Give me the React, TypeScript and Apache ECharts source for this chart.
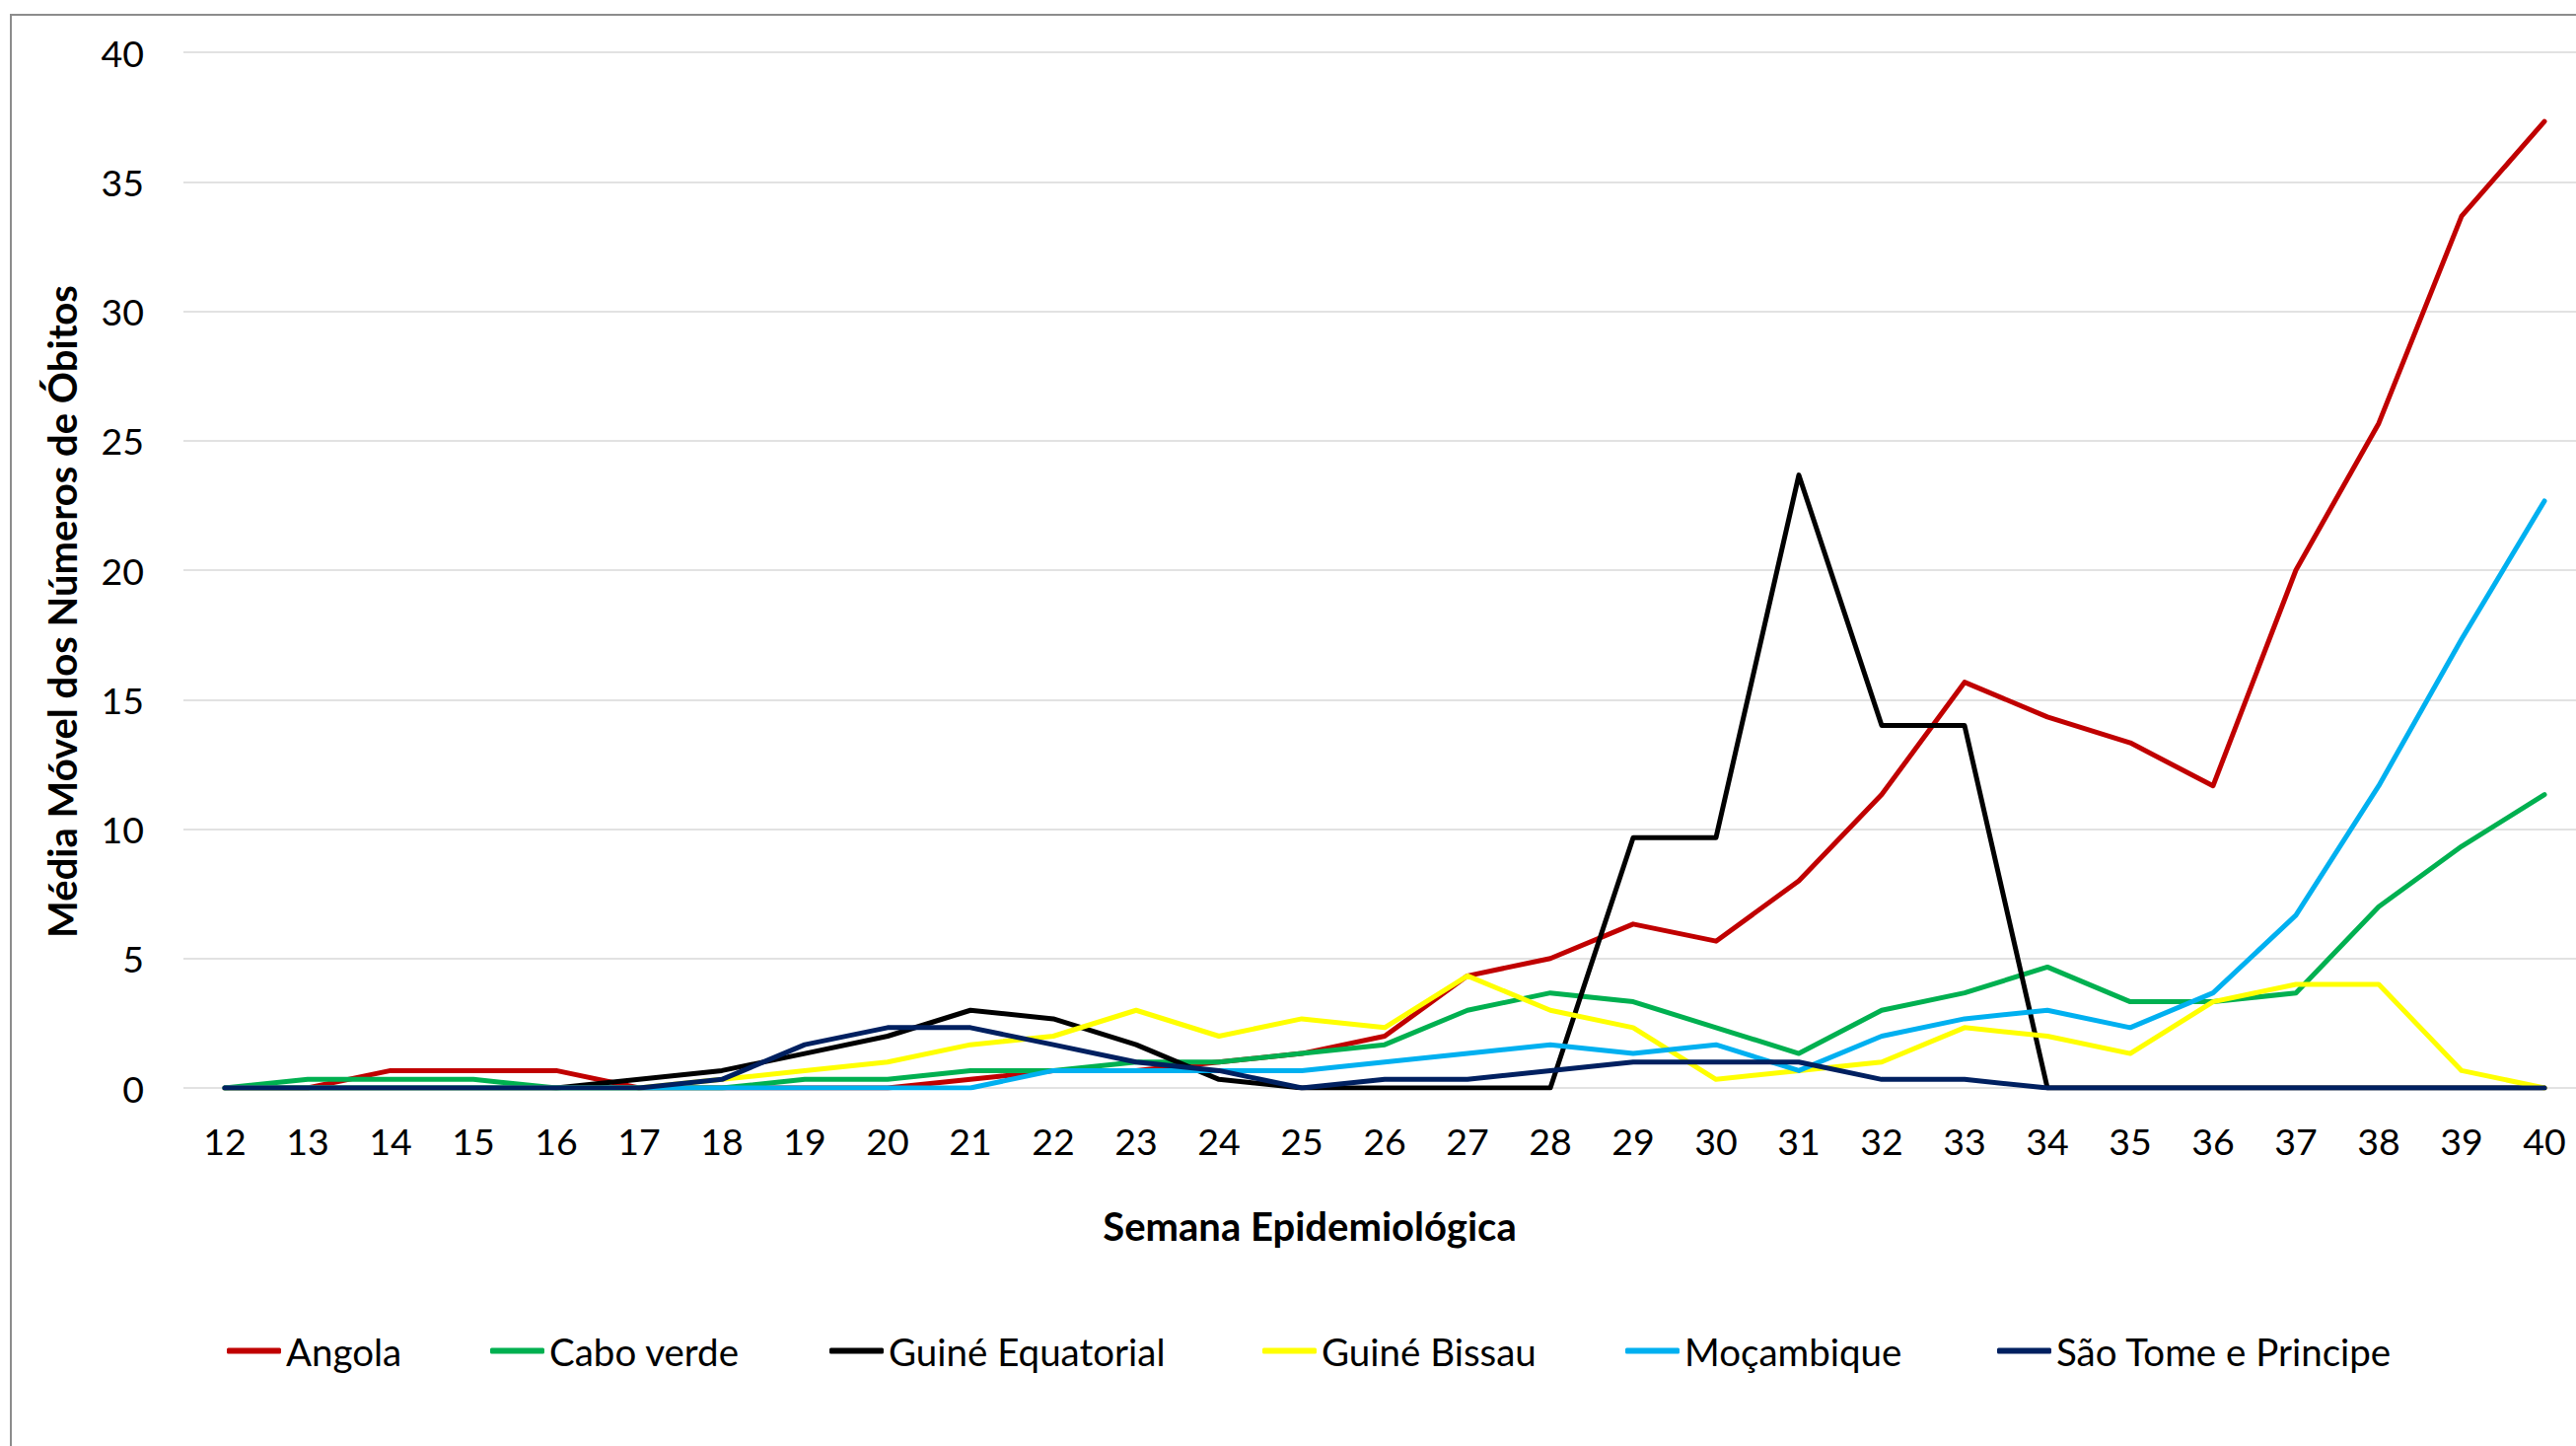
import React, { useEffect, useRef } from "react";
import * as echarts from "echarts";

const weeks = ["12","13","14","15","16","17","18","19","20","21","22","23","24","25","26","27","28","29","30","31","32","33","34","35","36","37","38","39","40"];

const angola = [0,0,0.67,0.67,0.67,0,0,0,0,0.33,0.67,0.67,1,1.33,2,4.33,5,6.33,5.67,8,11.33,15.67,14.33,13.33,11.67,20,25.67,33.67,37.33];
const caboVerde = [0,0.33,0.33,0.33,0,0,0,0.33,0.33,0.67,0.67,1,1,1.33,1.67,3,3.67,3.33,2.33,1.33,3,3.67,4.67,3.33,3.33,3.67,7,9.33,11.33];
const guineEquatorial = [0,0,0,0,0,0.33,0.67,1.33,2,3,2.67,1.67,0.33,0,0,0,0,9.67,9.67,23.67,14,14,0,0,0,0,0,0,0];
const guineBissau = [0,0,0,0,0,0,0.33,0.67,1,1.67,2,3,2,2.67,2.33,4.33,3,2.33,0.33,0.67,1,2.33,2,1.33,3.33,4,4,0.67,0];
const mocambique = [0,0,0,0,0,0,0,0,0,0,0.67,0.67,0.67,0.67,1,1.33,1.67,1.33,1.67,0.67,2,2.67,3,2.33,3.67,6.67,11.67,17.33,22.67];
const saoTome = [0,0,0,0,0,0,0.33,1.67,2.33,2.33,1.67,1,0.67,0,0.33,0.33,0.67,1,1,1,0.33,0.33,0,0,0,0,0,0,0];

const seriesNames = ["Angola","Cabo verde","Guiné Equatorial","Guiné Bissau","Moçambique","São Tome e Principe"];
const seriesData = [angola, caboVerde, guineEquatorial, guineBissau, mocambique, saoTome];
const seriesColors = ["#C00000","#00B050","#000000","#FFFF00","#00B0F0","#002060"];
const legendLeft = [230, 497, 841, 1280, 1648, 2025];

const FONT = "Lato, 'Open Sans', sans-serif";

export default function App() {
  const ref = useRef<HTMLDivElement>(null);
  useEffect(() => {
    if (!ref.current) return;
    const chart = echarts.init(ref.current, null, { renderer: "svg" });
    const option = {
      animation: false,
      backgroundColor: "#ffffff",
      textStyle: { fontFamily: FONT },
      grid: { left: 186, top: 53, width: 2436, height: 1050, containLabel: false },
      xAxis: {
        type: "category",
        data: weeks,
        boundaryGap: true,
        axisLine: { show: false },
        axisTick: { show: false },
        splitLine: { show: false },
        axisLabel: { fontSize: 37.5, color: "#000", fontFamily: FONT, margin: 34, interval: 0 },
      },
      yAxis: {
        type: "value",
        min: 0,
        max: 40,
        interval: 5,
        axisLine: { show: false },
        axisTick: { show: false },
        splitLine: { show: true, lineStyle: { color: "#D9D9D9", width: 1.5 } },
        axisLabel: { fontSize: 37.5, color: "#000", fontFamily: FONT, margin: 40 },
      },
      legend: seriesNames.map((n, i) => ({
        data: [n],
        left: legendLeft[i],
        top: 1350,
        padding: 0,
        itemWidth: 55,
        itemHeight: 6,
        icon: "roundRect",
        textStyle: { fontSize: 38.5, color: "#000", fontFamily: FONT, padding: [0, 0, 0, 0] },
        selectedMode: false,
      })),
      series: seriesNames.map((n, i) => ({
        name: n,
        type: "line",
        data: seriesData[i],
        symbol: "none",
        showSymbol: false,
        smooth: false,
        color: seriesColors[i],
        itemStyle: { color: seriesColors[i] },
        lineStyle: { color: seriesColors[i], width: 5, cap: "round", join: "round" },
      })),
      graphic: [
        {
          type: "rect",
          z: -10,
          shape: { x: 11, y: 15, width: 2700, height: 1600 },
          style: { fill: "none", stroke: "#8C8C8C", lineWidth: 2 },
          silent: true,
        },
        {
          type: "text",
          x: 63,
          y: 620,
          rotation: Math.PI / 2,
          style: {
            text: "Média Móvel dos Números de Óbitos",
            font: `bold 40px ${FONT}`,
            fill: "#000",
            textAlign: "center",
            textVerticalAlign: "middle",
            align: "center",
            verticalAlign: "middle",
          },
        },
        {
          type: "text",
          x: 1328,
          y: 1243,
          style: {
            text: "Semana Epidemiológica",
            font: `bold 40px ${FONT}`,
            fill: "#000",
            textAlign: "center",
            textVerticalAlign: "middle",
            align: "center",
            verticalAlign: "middle",
          },
        },
      ],
    };
    chart.setOption(option as any);
    return () => chart.dispose();
  }, []);
  return (
    <div
      ref={ref}
      style={{ position: "fixed", left: 0, top: 0, width: "2660px", height: "1466px", background: "#fff" }}
    />
  );
}
